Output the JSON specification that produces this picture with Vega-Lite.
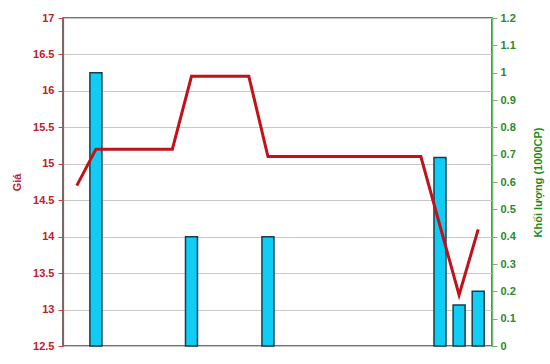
{
  "$schema": "https://vega.github.io/schema/vega-lite/v6.json",
  "width": 429,
  "height": 328,
  "autosize": {"type": "none"},
  "padding": {"left": 63, "top": 18, "right": 58, "bottom": 18},
  "background": "white",
  "config": {
    "view": {"stroke": "#444444", "strokeWidth": 1.5},
    "font": "Liberation Sans"
  },
  "data": {
    "values": [
      {"day": 0, "price": 14.7, "vol": 0},
      {"day": 1, "price": 15.2, "vol": 1.0},
      {"day": 2, "price": 15.2, "vol": 0},
      {"day": 3, "price": 15.2, "vol": 0},
      {"day": 4, "price": 15.2, "vol": 0},
      {"day": 5, "price": 15.2, "vol": 0},
      {"day": 6, "price": 16.2, "vol": 0.4},
      {"day": 7, "price": 16.2, "vol": 0},
      {"day": 8, "price": 16.2, "vol": 0},
      {"day": 9, "price": 16.2, "vol": 0},
      {"day": 10, "price": 15.1, "vol": 0.4},
      {"day": 11, "price": 15.1, "vol": 0},
      {"day": 12, "price": 15.1, "vol": 0},
      {"day": 13, "price": 15.1, "vol": 0},
      {"day": 14, "price": 15.1, "vol": 0},
      {"day": 15, "price": 15.1, "vol": 0},
      {"day": 16, "price": 15.1, "vol": 0},
      {"day": 17, "price": 15.1, "vol": 0},
      {"day": 18, "price": 15.1, "vol": 0},
      {"day": 19, "price": 14.15, "vol": 0.69},
      {"day": 20, "price": 13.2, "vol": 0.15},
      {"day": 21, "price": 14.1, "vol": 0.2}
    ]
  },
  "layer": [
    {
      "transform": [{"filter": "datum.vol > 0"}],
      "mark": {"type": "bar", "size": 12, "fill": "#0fcdf5", "stroke": "#1c3c48", "strokeWidth": 1.5},
      "encoding": {
        "x": {"field": "day", "type": "quantitative", "scale": {"domain": [-0.46, 21.46], "nice": false, "zero": false}, "axis": null},
        "y": {
          "field": "vol", "type": "quantitative",
          "scale": {"domain": [0, 1.2], "nice": false},
          "axis": {
            "orient": "right",
            "title": "Khối lượng (1000CP)",
            "titleColor": "#1e8a1e",
            "titleFontSize": 11,
            "titleFontWeight": "bold",
            "titleAngle": -90,
            "titleAlign": "center",
            "titleBaseline": "middle",
            "titleX": 46,
            "titleY": 164,
            "values": [0, 0.1, 0.2, 0.3, 0.4, 0.5, 0.6, 0.7, 0.8, 0.9, 1, 1.1, 1.2],
            "format": "~g",
            "labelColor": "#2a8a2a",
            "labelFontSize": 11,
            "labelFontWeight": "bold",
            "labelPadding": 3,
            "domainColor": "#6cb86c",
            "domainWidth": 1.5,
            "tickColor": "#6cb86c",
            "tickSize": 5,
            "grid": false
          }
        }
      }
    },
    {
      "mark": {"type": "line", "color": "#c0121a", "strokeWidth": 3},
      "encoding": {
        "x": {"field": "day", "type": "quantitative", "scale": {"domain": [-0.46, 21.46], "nice": false, "zero": false}, "axis": null},
        "y": {
          "field": "price", "type": "quantitative",
          "scale": {"domain": [12.5, 17], "nice": false, "zero": false},
          "axis": {
            "orient": "left",
            "title": "Giá",
            "titleColor": "#c0202a",
            "titleFontSize": 11,
            "titleFontWeight": "bold",
            "titleAngle": -90,
            "titleAlign": "center",
            "titleBaseline": "middle",
            "titleX": -46,
            "titleY": 164,
            "values": [12.5, 13, 13.5, 14, 14.5, 15, 15.5, 16, 16.5, 17],
            "format": "~g",
            "labelColor": "#c0202a",
            "labelFontSize": 11,
            "labelFontWeight": "bold",
            "labelPadding": 4,
            "domainColor": "#d04040",
            "domainWidth": 1.2,
            "tickColor": "#d04040",
            "tickSize": 5,
            "grid": true,
            "gridColor": "#c8c8c8",
            "gridWidth": 1
          }
        }
      }
    }
  ],
  "resolve": {"scale": {"y": "independent"}}
}
